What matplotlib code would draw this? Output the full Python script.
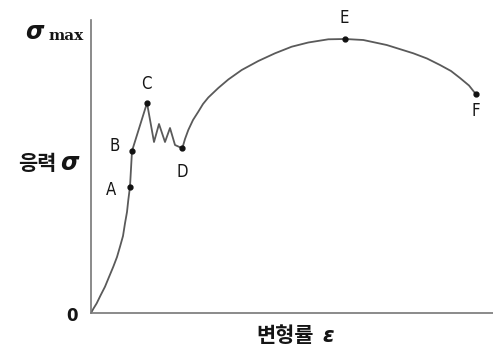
import matplotlib.pyplot as plt

# stress-strain curve (arbitrary units)
strain = [0, 2.5, 5.7, 9.5, 14, 18, 22.3, 26, 29, 32, 34, 36, 37.3, 39, 41, 56,
          63, 68, 74, 79, 84, 91.3,
          94, 97.3, 102, 107.3, 112, 117.3, 127.3, 137.3, 150.7, 167.3, 184, 200.7,
          217.3, 237.3, 254, 272.3, 295.7, 322.3, 336, 349, 360, 369, 378, 385]
stress = [0, 4.5, 9.7, 17.5, 26.3, 36, 46.3, 56, 66.3, 77, 89.7, 101, 113, 126.3, 162, 210,
          171, 189, 171, 185, 168, 164.7,
          174, 183, 193, 201.3, 209, 215.5, 225, 233.5, 243, 252, 259.7, 266.3,
          270.5, 273.7, 274, 273, 268, 259.7, 254.5, 248, 242, 235, 227.5, 218.7]

# named points on the curve
pt_names = ["A", "B", "C", "D", "E", "F"]
pt_strain = [39, 41, 56, 91.3, 254, 385]
pt_stress = [126.3, 162, 210, 164.7, 274, 218.7]
# label offsets from each point (data units)
lab_dx = [-19, -17, -1, 0, -1, 0]
lab_dy = [-3, 5, 19, -24, 21, -17]

fig = plt.figure(figsize=(4.93, 3.48), dpi=100)
ax = fig.add_axes([91 / 493, 35 / 348, 402 / 493, 293 / 348])

line_col = "#5a5a5a"
txt_col = "#151515"

ax.plot(strain, stress, color=line_col, lw=1.3)
ax.plot(pt_strain, pt_stress, "o", color="#111111", ms=3.5, ls="none")

for name, x, y, dx, dy in zip(pt_names, pt_strain, pt_stress, lab_dx, lab_dy):
    ax.text(x + dx, y + dy, name, ha="center", va="center", fontsize=12,
            color=txt_col, family="DejaVu Sans", fontstretch="condensed")

ax.text(-19, -3, "0", ha="center", va="center", fontsize=12, color=txt_col,
        fontweight="bold")

# axis labels
ax.text(-57, 281, "σ", ha="center", va="center", fontsize=17, fontweight="bold",
        fontstyle="italic", color=txt_col)
ax.text(-25, 277, "max", ha="center", va="center", fontsize=11, fontweight="bold",
        family="DejaVu Serif", color=txt_col)
ax.text(-54, 150, "응력", ha="center", va="center", fontsize=15, fontweight="bold",
        family="Noto Sans CJK KR", color=txt_col)
ax.text(-22, 150, "σ", ha="center", va="center", fontsize=17, fontweight="bold",
        fontstyle="italic", color=txt_col)
ax.text(194, -23, "변형률", ha="center", va="center", fontsize=15, fontweight="bold",
        family="Noto Sans CJK KR", color=txt_col)
ax.text(237, -23, "ε", ha="center", va="center", fontsize=15, fontweight="bold",
        fontstyle="italic", color=txt_col)

ax.set_xlim(0, 402)
ax.set_ylim(0, 293)
ax.set_xticks([])
ax.set_yticks([])
for side in ["top", "right"]:
    ax.spines[side].set_visible(False)
for side in ["left", "bottom"]:
    ax.spines[side].set_color("#777777")
    ax.spines[side].set_linewidth(1.2)

fig.savefig("out.png", dpi=100)
